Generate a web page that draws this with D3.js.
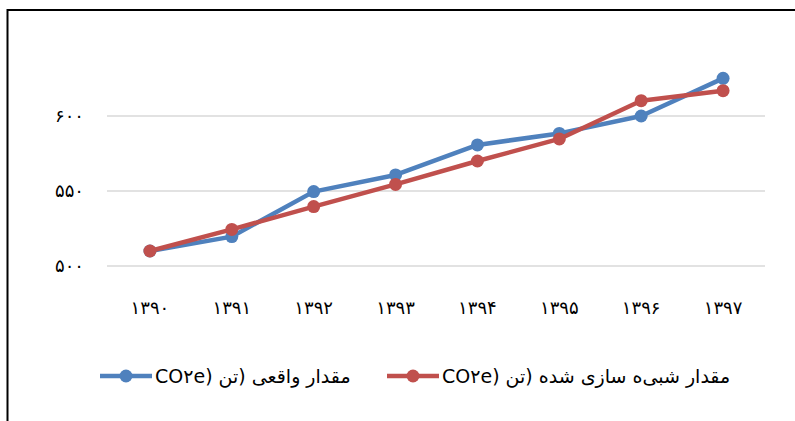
<!DOCTYPE html>
<html><head><meta charset="utf-8">
<script src="https://cdn.jsdelivr.net/npm/d3@7"></script>
<style>
html,body{margin:0;padding:0;background:#fff;}
svg{display:block;}
text{font-family:"DejaVu Sans",sans-serif;fill:#000;}
</style></head>
<body>
<svg id="chart" width="795" height="421"></svg>
<script>
const categories = ["۱۳۹۰","۱۳۹۱","۱۳۹۲","۱۳۹۳","۱۳۹۴","۱۳۹۵","۱۳۹۶","۱۳۹۷"];
const actualValues = [510, 519.6, 549.6, 560.7, 580.7, 588.4, 600, 625.1];
const simulatedValues = [510, 524.4, 539.6, 554.4, 570, 584.7, 610.2, 616.9];
const yTicks = [500, 550, 600];
const yTickLabels = ["۵۰۰","۵۵۰","۶۰۰"];
const seriesNames = ["مقدار واقعی (تن (CO۲e", "مقدار شبی\u200Cه سازی شده (تن (CO۲e"];
const colors = ["#4F81BD", "#C0504D"];

const svg = d3.select("#chart");
const x = d3.scaleBand().domain(categories).range([109, 764]);
const y = d3.scaleLinear().domain([500, 650]).range([266, 41]);

// frame
svg.append("line").attr("x1",7).attr("x2",795).attr("y1",10).attr("y2",10).attr("stroke","#000").attr("stroke-width",2);
svg.append("line").attr("x1",7.5).attr("x2",7.5).attr("y1",9).attr("y2",421).attr("stroke","#000").attr("stroke-width",2);

// grid
svg.append("g").selectAll("line").data(yTicks).join("line")
  .attr("x1",107).attr("x2",765)
  .attr("y1",d=>y(d)).attr("y2",d=>y(d))
  .attr("stroke","#D9D9D9").attr("stroke-width",1.5);

// y labels
svg.append("g").selectAll("text").data(yTicks).join("text")
  .attr("x",84).attr("y",d=>y(d)).attr("dy","0.35em")
  .attr("text-anchor","end").style("font-size","18px")
  .text((d,i)=>yTickLabels[i]);

// x labels
svg.append("g").selectAll("text").data(categories).join("text")
  .attr("x",d=>x(d)+x.bandwidth()/2).attr("y",308).attr("dy","0.35em")
  .attr("text-anchor","middle").style("font-size","18px")
  .text(d=>d);

const series = [actualValues, simulatedValues];
const line = d3.line().x((d,i)=>x(categories[i])+x.bandwidth()/2).y(d=>y(d));
series.forEach((vals,s)=>{
  const g = svg.append("g");
  g.append("path").datum(vals).attr("d",line).attr("fill","none")
    .attr("stroke",colors[s]).attr("stroke-width",4.5).attr("stroke-linejoin","round").attr("stroke-linecap","round");
  g.selectAll("circle").data(vals).join("circle")
    .attr("cx",(d,i)=>x(categories[i])+x.bandwidth()/2).attr("cy",d=>y(d)).attr("r",6.5)
    .attr("fill",colors[s]);
});

// legend
const legendX = [100, 387];
const legendY = 376;
seriesNames.forEach((name,s)=>{
  const g = svg.append("g");
  g.append("line").attr("x1",legendX[s]).attr("x2",legendX[s]+52).attr("y1",legendY).attr("y2",legendY)
    .attr("stroke",colors[s]).attr("stroke-width",4.5);
  g.append("circle").attr("cx",legendX[s]+26).attr("cy",legendY).attr("r",6.5).attr("fill",colors[s]);
  g.append("text").attr("x",legendX[s]+55).attr("y",legendY).attr("dy","0.35em")
    .attr("direction","rtl").attr("text-anchor","end")
    .style("font-size","19px").style("direction","rtl").style("unicode-bidi","embed")
    .text(name);
});
</script>
</body></html>
